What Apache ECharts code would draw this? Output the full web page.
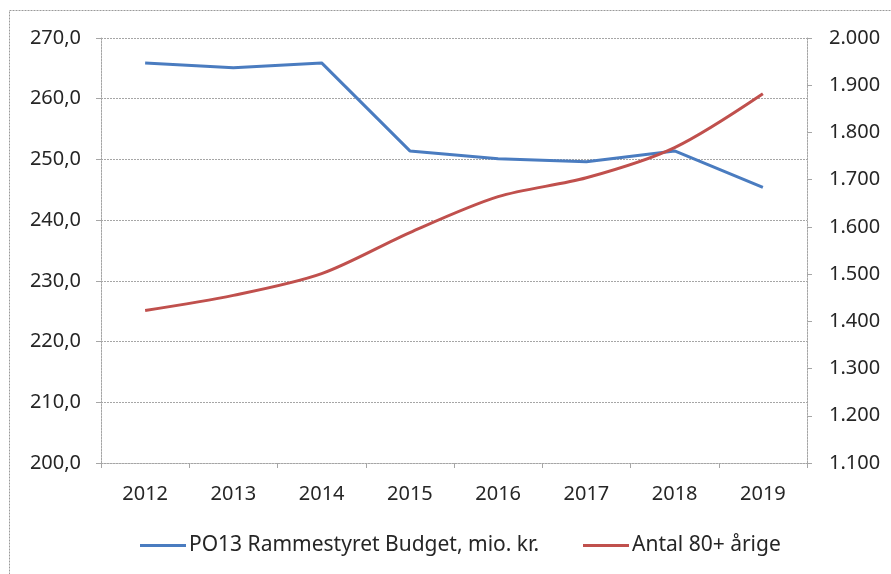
<!DOCTYPE html>
<html>
<head>
<meta charset="utf-8">
<script src="https://cdn.jsdelivr.net/npm/echarts@6/dist/echarts.min.js"></script>
<style>
  html, body { margin: 0; padding: 0; background: #fff; }
  #chart { width: 891px; height: 574px; }
</style>
</head>
<body>
<div id="chart"></div>
<script>
var years = ['2012', '2013', '2014', '2015', '2016', '2017', '2018', '2019'];
var budget = [265.9, 265.1, 265.9, 251.4, 250.1, 249.6, 251.4, 245.4];
var antal80 = [1423, 1455, 1501, 1588, 1664, 1704, 1768, 1882];

var budgetName = 'PO13 Rammestyret Budget, mio. kr.';
var antalName = 'Antal 80+ årige';

var font = 'Noto Sans';
var gridColor = '#a6a6a6';
var textColor = '#262626';

var chart = echarts.init(document.getElementById('chart'));

chart.setOption({
    animation: false,
    backgroundColor: '#fff',
    textStyle: { fontFamily: font },
    graphic: [{
        type: 'rect',
        shape: { x: 9.5, y: 10.5, width: 900, height: 600 },
        style: { fill: 'none', stroke: '#9a9a9a', lineWidth: 1, lineDash: [2, 1] },
        silent: true
    }],
    grid: { left: 101, right: 84, top: 38, bottom: 111 },
    legend: {
        bottom: 13,
        left: 135,
        itemWidth: 46,
        itemHeight: 14,
        itemGap: 44,
        textStyle: { fontFamily: font, fontSize: 21, color: textColor, padding: [0, 0, 0, -2] },
        data: [
            { name: budgetName, icon: 'path://M0,6 L48,6 L48,9 L0,9 Z' },
            { name: antalName, icon: 'path://M0,6 L48,6 L48,9 L0,9 Z' }
        ]
    },
    xAxis: {
        type: 'category',
        data: years,
        boundaryGap: true,
        axisLine: { lineStyle: { color: gridColor, type: [2, 1] } },
        axisTick: { show: true, length: 5, lineStyle: { color: gridColor } },
        axisLabel: { fontFamily: font, fontSize: 20, color: textColor, margin: 21 }
    },
    yAxis: [{
        type: 'value',
        min: 200,
        max: 270,
        interval: 10,
        axisLine: { show: true, lineStyle: { color: gridColor, type: [2, 1] } },
        axisTick: { show: true, length: 5, lineStyle: { color: gridColor } },
        splitLine: { lineStyle: { color: gridColor, type: [2, 1] } },
        axisLabel: {
            fontFamily: font, fontSize: 20, color: textColor, margin: 20,
            formatter: function (v) { return v.toFixed(1).replace('.', ','); }
        }
    }, {
        type: 'value',
        min: 1100,
        max: 2000,
        interval: 100,
        position: 'right',
        axisLine: { show: true, lineStyle: { color: gridColor, type: [2, 1] } },
        axisTick: { show: true, length: 5, lineStyle: { color: gridColor } },
        splitLine: { show: false },
        axisLabel: {
            fontFamily: font, fontSize: 20, color: textColor, margin: 22,
            formatter: function (v) { return String(v).replace(/\B(?=(\d{3})+(?!\d))/g, '.'); }
        }
    }],
    series: [{
        name: budgetName,
        type: 'line',
        yAxisIndex: 0,
        data: budget,
        showSymbol: false,
        symbol: 'none',
        itemStyle: { color: '#4a7cc0' },
        lineStyle: { color: '#4a7cc0', width: 3 }
    }, {
        name: antalName,
        type: 'line',
        yAxisIndex: 1,
        data: antal80,
        smooth: 0.3,
        showSymbol: false,
        symbol: 'none',
        itemStyle: { color: '#c0504d' },
        lineStyle: { color: '#c0504d', width: 3 }
    }]
});
</script>
</body>
</html>
